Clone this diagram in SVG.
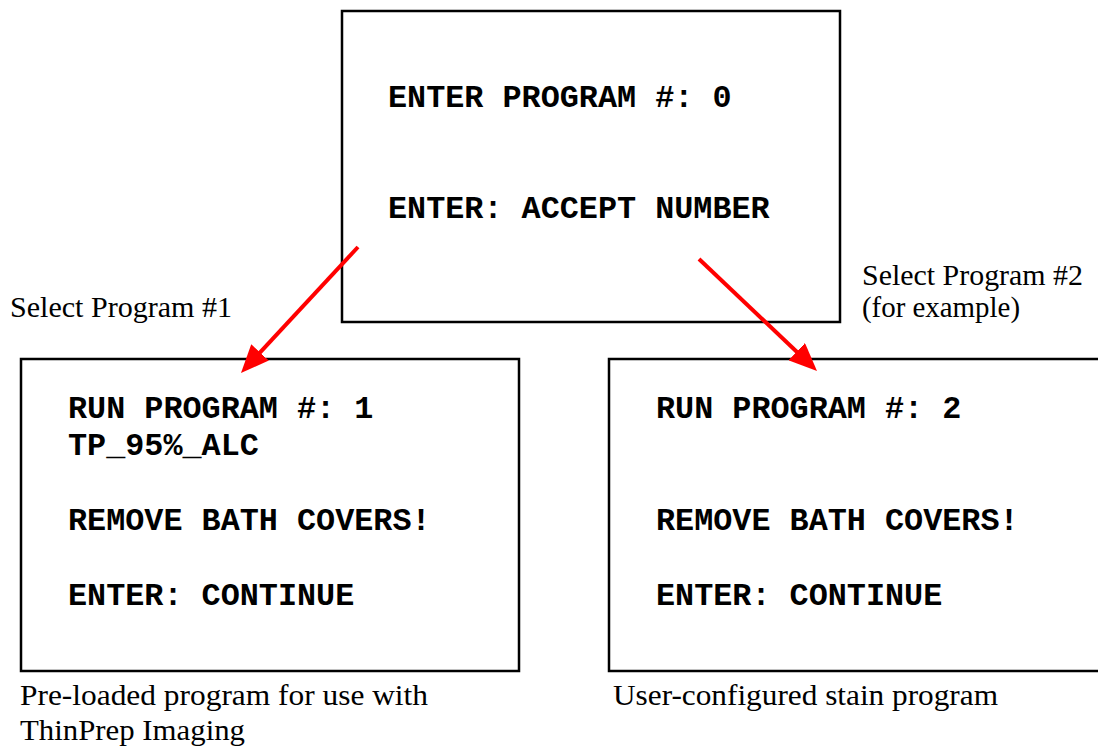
<svg xmlns="http://www.w3.org/2000/svg" width="1098" height="749" viewBox="0 0 1098 749">
<style>
.box{fill:#fff;stroke:#000;stroke-width:2.5}
.mono{font-family:"Liberation Mono","Courier New",monospace;font-weight:bold;font-size:31.8px;fill:#000}
.cap{font-family:"Liberation Serif","Times New Roman",serif;font-size:29.5px;fill:#000}
.arrow{stroke:#ff0000;stroke-width:4;fill:none;marker-end:url(#ah)}
</style>
<defs>
<marker id="ah" markerUnits="userSpaceOnUse" markerWidth="28" markerHeight="24" viewBox="0 0 28 24" refX="8" refY="12" orient="auto">
<path d="M0,0 L28,12 L0,24 z" fill="#ff0000"/>
</marker>
</defs>
<rect width="1098" height="749" fill="#fff"/>
<g id="node-enter">
<rect class="box" x="342" y="11" width="498" height="311"/>
<text class="mono" x="388" y="107">ENTER PROGRAM #: 0</text>
<text class="mono" x="388" y="218">ENTER: ACCEPT NUMBER</text>
</g>
<g id="node-run1">
<rect class="box" x="21" y="359" width="498" height="312"/>
<text class="mono" x="68" y="418">RUN PROGRAM #: 1</text>
<text class="mono" x="68" y="455">TP_95%_ALC</text>
<text class="mono" x="68" y="530">REMOVE BATH COVERS!</text>
<text class="mono" x="68" y="605">ENTER: CONTINUE</text>
</g>
<g id="node-run2">
<rect class="box" x="609" y="359" width="520" height="312"/>
<text class="mono" x="656" y="418">RUN PROGRAM #: 2</text>
<text class="mono" x="656" y="530">REMOVE BATH COVERS!</text>
<text class="mono" x="656" y="605">ENTER: CONTINUE</text>
</g>
<g id="connectors">
<line class="arrow" x1="358" y1="247" x2="254.6" y2="358.3"/>
<line class="arrow" x1="699" y1="259" x2="802.5" y2="357.2"/>
</g>
<g id="labels">
<text class="cap" x="10" y="317" textLength="222" lengthAdjust="spacingAndGlyphs">Select Program #1</text>
<text class="cap" x="862" y="285" textLength="221" lengthAdjust="spacingAndGlyphs">Select Program #2</text>
<text class="cap" x="862" y="317" textLength="158" lengthAdjust="spacingAndGlyphs">(for example)</text>
<text class="cap" x="20" y="705" textLength="408" lengthAdjust="spacingAndGlyphs">Pre-loaded program for use with</text>
<text class="cap" x="20" y="740" textLength="225" lengthAdjust="spacingAndGlyphs">ThinPrep Imaging</text>
<text class="cap" x="613" y="705" textLength="385" lengthAdjust="spacingAndGlyphs">User-configured stain program</text>
</g>
</svg>
